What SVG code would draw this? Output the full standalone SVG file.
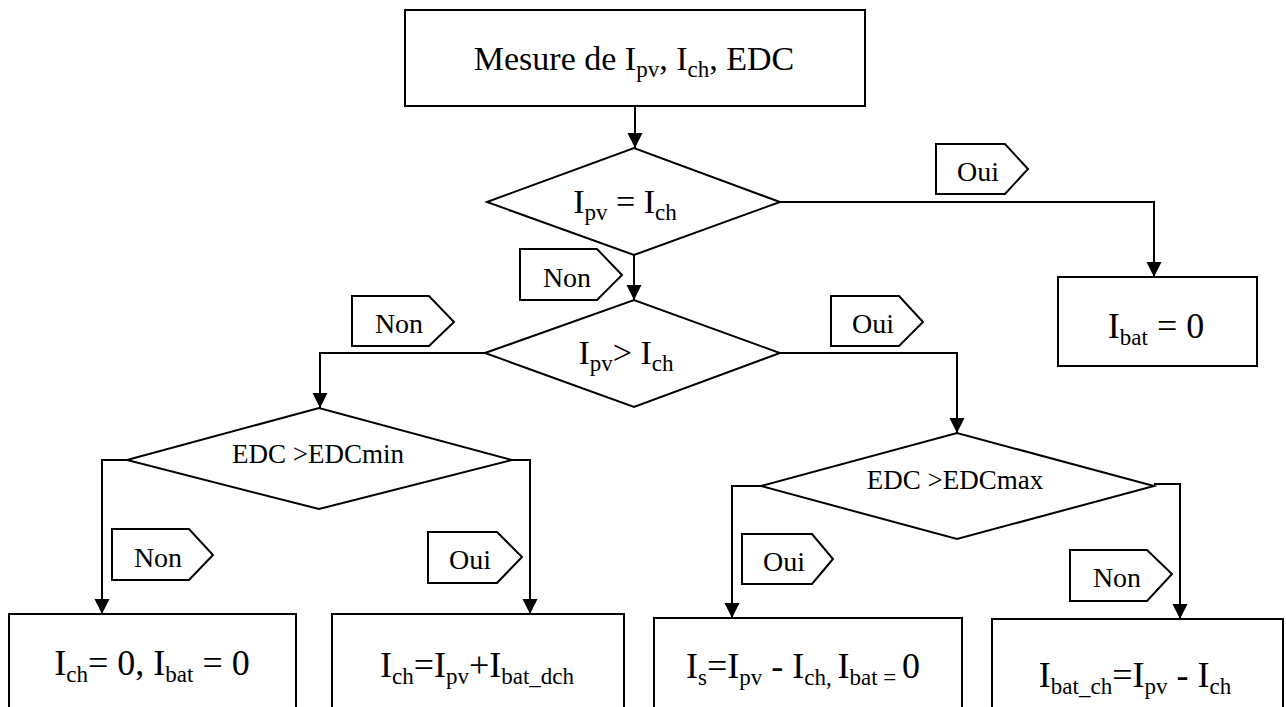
<svg xmlns="http://www.w3.org/2000/svg" width="1286" height="707" viewBox="0 0 1286 707">
<style>
.shape{fill:#fff;stroke:#000;stroke-width:2}
.conn{fill:none;stroke:#000;stroke-width:2}
text{font-family:"Liberation Serif","Times New Roman",serif;fill:#000}
.big{font-size:34px}
.box{font-size:36px}
.lab{font-size:28px}
.cond{font-size:27px}
.s{font-size:23px}
</style>
<defs>
<marker id="arr" markerWidth="16" markerHeight="16" refX="15" refY="7.5" orient="auto" markerUnits="userSpaceOnUse">
<path d="M0,0 L15,7.5 L0,15 Z" fill="#000"/>
</marker>
</defs>
<rect width="1286" height="707" fill="#fff"/>
<g id="connectors">
<path class="conn" d="M635,106 V148" marker-end="url(#arr)"/>
<path class="conn" d="M780,202 H1154 V277" marker-end="url(#arr)"/>
<path class="conn" d="M634,255 V300" marker-end="url(#arr)"/>
<path class="conn" d="M485,353 H320 V408" marker-end="url(#arr)"/>
<path class="conn" d="M780,353 H957 V433" marker-end="url(#arr)"/>
<path class="conn" d="M127,460 H102 V614" marker-end="url(#arr)"/>
<path class="conn" d="M512,460 H530 V614" marker-end="url(#arr)"/>
<path class="conn" d="M761,486 H732 V618" marker-end="url(#arr)"/>
<path class="conn" d="M1154,484 H1180 V619" marker-end="url(#arr)"/>
</g>
<g id="start">
<rect class="shape" x="405" y="10" width="460" height="96"/>
<text class="big" x="634" y="70" text-anchor="middle">Mesure de I<tspan class="s" dy="7">pv</tspan><tspan dy="-7">, I</tspan><tspan class="s" dy="7">ch</tspan><tspan dy="-7">, EDC</tspan></text>
</g>
<g id="dec1">
<polygon class="shape" points="487,202 634,148 780,202 634,255"/>
<text class="big" x="625" y="213" text-anchor="middle">I<tspan class="s" dy="7">pv</tspan><tspan dy="-7"> = I</tspan><tspan class="s" dy="7">ch</tspan></text>
</g>
<g id="ibat0">
<rect class="shape" x="1058" y="277" width="199" height="89"/>
<text class="box" x="1156" y="338" text-anchor="middle">I<tspan class="s" dy="7">bat</tspan><tspan dy="-7"> = 0</tspan></text>
</g>
<g id="dec2">
<polygon class="shape" points="485,353 634,300 780,353 634,407"/>
<text class="big" x="626" y="364" text-anchor="middle">I<tspan class="s" dy="7">pv</tspan><tspan dy="-7">&gt; I</tspan><tspan class="s" dy="7">ch</tspan></text>
</g>
<g id="dec3">
<polygon class="shape" points="127,460 319,408 512,460 319,509"/>
<text class="cond" x="318" y="463" text-anchor="middle">EDC &gt;EDCmin</text>
</g>
<g id="dec4">
<polygon class="shape" points="761,486 957,433 1154,486 957,539"/>
<text class="cond" x="955" y="489" text-anchor="middle">EDC &gt;EDCmax</text>
</g>
<g id="boxA">
<rect class="shape" x="9" y="614" width="287" height="110"/>
<text class="box" x="152" y="675" text-anchor="middle">I<tspan class="s" dy="7">ch</tspan><tspan dy="-7">= 0, I</tspan><tspan class="s" dy="7">bat</tspan><tspan dy="-7"> = 0</tspan></text>
</g>
<g id="boxB">
<rect class="shape" x="332" y="614" width="292" height="110"/>
<text class="box" x="477" y="677" text-anchor="middle">I<tspan class="s" dy="7">ch</tspan><tspan dy="-7">=I</tspan><tspan class="s" dy="7">pv</tspan><tspan dy="-7">+I</tspan><tspan class="s" dy="7">bat_dch</tspan></text>
</g>
<g id="boxC">
<rect class="shape" x="654" y="618" width="308" height="110"/>
<text class="box" x="803" y="678" text-anchor="middle">I<tspan class="s" dy="7">s</tspan><tspan dy="-7">=I</tspan><tspan class="s" dy="7">pv</tspan><tspan dy="-7"> - I</tspan><tspan class="s" dy="7">ch, </tspan><tspan dy="-7">I</tspan><tspan class="s" dy="7">bat = </tspan><tspan dy="-7">0</tspan></text>
</g>
<g id="boxD">
<rect class="shape" x="992" y="619" width="291" height="110"/>
<text class="box" x="1135" y="687" text-anchor="middle">I<tspan class="s" dy="7">bat_ch</tspan><tspan dy="-7">=I</tspan><tspan class="s" dy="7">pv</tspan><tspan dy="-7"> - I</tspan><tspan class="s" dy="7">ch</tspan></text>
</g>
<g id="tag1">
<polygon class="shape" points="936,144 1005,144 1028,169 1005,194 936,194"/>
<text class="lab" x="978" y="181" text-anchor="middle">Oui</text>
</g>
<g id="tag2">
<polygon class="shape" points="520,249 597,249 622,275 597,300 520,300"/>
<text class="lab" x="567" y="287" text-anchor="middle">Non</text>
</g>
<g id="tag3">
<polygon class="shape" points="352,296 429,296 454,322 429,346 352,346"/>
<text class="lab" x="399" y="333" text-anchor="middle">Non</text>
</g>
<g id="tag4">
<polygon class="shape" points="831,296 899,296 923,322 899,346 831,346"/>
<text class="lab" x="873" y="333" text-anchor="middle">Oui</text>
</g>
<g id="tag5">
<polygon class="shape" points="112,529 189,529 213,555 189,580 112,580"/>
<text class="lab" x="158" y="567" text-anchor="middle">Non</text>
</g>
<g id="tag6">
<polygon class="shape" points="428,532 497,532 522,557 497,583 428,583"/>
<text class="lab" x="470" y="569" text-anchor="middle">Oui</text>
</g>
<g id="tag7">
<polygon class="shape" points="742,534 812,534 833,559 812,584 742,584"/>
<text class="lab" x="784" y="571" text-anchor="middle">Oui</text>
</g>
<g id="tag8">
<polygon class="shape" points="1070,550 1147,550 1172,574 1147,601 1070,601"/>
<text class="lab" x="1117" y="587" text-anchor="middle">Non</text>
</g>
</svg>
